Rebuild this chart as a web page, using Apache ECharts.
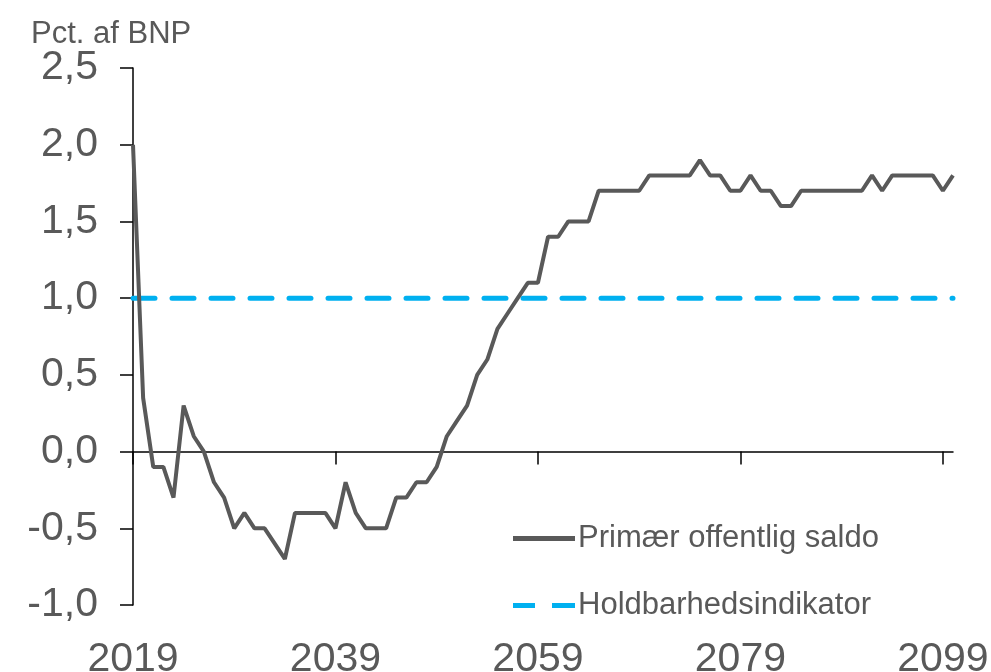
<!DOCTYPE html>
<html>
<head>
<meta charset="utf-8">
<script src="https://cdn.jsdelivr.net/npm/echarts@6/dist/echarts.min.js"></script>
<style>
  html, body { margin: 0; padding: 0; background: #fff; }
  #chart { width: 991px; height: 672px; }
</style>
</head>
<body>
<div id="chart"></div>
<script>
// år 2019-2100
var years = [];
for (var y = 2019; y <= 2100; y++) years.push(String(y));

// primær offentlig saldo, pct. af BNP
var saldo = [
  2.0, 0.35, -0.1, -0.1, -0.3, 0.3, 0.1, 0.0, -0.2, -0.3,     // 2019-2028
  -0.5, -0.4, -0.5, -0.5, -0.6, -0.7, -0.4, -0.4, -0.4, -0.4, // 2029-2038
  -0.5, -0.2, -0.4, -0.5, -0.5, -0.5, -0.3, -0.3, -0.2, -0.2, // 2039-2048
  -0.1, 0.1, 0.2, 0.3, 0.5, 0.6, 0.8, 0.9, 1.0, 1.1,          // 2049-2058
  1.1, 1.4, 1.4, 1.5, 1.5, 1.5, 1.7, 1.7, 1.7, 1.7,           // 2059-2068
  1.7, 1.8, 1.8, 1.8, 1.8, 1.8, 1.9, 1.8, 1.8, 1.7,           // 2069-2078
  1.7, 1.8, 1.7, 1.7, 1.6, 1.6, 1.7, 1.7, 1.7, 1.7,           // 2079-2088
  1.7, 1.7, 1.7, 1.8, 1.7, 1.8, 1.8, 1.8, 1.8, 1.8,           // 2089-2098
  1.7, 1.8                                                     // 2099-2100
];

// holdbarhedsindikator
var indikator = years.map(function () { return 1.0; });

var tickEvery20 = function (idx) { return idx % 20 === 0; };
var grey = '#595959';
var blue = '#00B0F0';

var myChart = echarts.init(document.getElementById('chart'));
var option = {
    animation: false,
    title: {
        text: 'Pct. af BNP',
        left: 26,
        top: 14,
        textStyle: { fontFamily: 'Liberation Sans', fontSize: 31, fontWeight: 'normal', color: grey }
    },
    grid: { left: 133, right: 38, top: 68, bottom: 67, outerBoundsMode: 'none' },
    legend: {
        orient: 'vertical',
        left: 508,
        top: 518,
        itemWidth: 62,
        itemHeight: 5,
        itemGap: 36,
        textStyle: { fontFamily: 'Liberation Sans', fontSize: 31, color: grey, padding: [0, 0, 0, -2] },
        data: [
            { name: 'Primær offentlig saldo', icon: 'rect', itemStyle: { color: grey } },
            { name: 'Holdbarhedsindikator', icon: 'path://M0,0h22v5h-22z M39,0h23v5h-23z', itemStyle: { color: blue } }
        ]
    },
    xAxis: [
        {
            type: 'category',
            data: years,
            boundaryGap: false,
            axisLine: { onZero: true, lineStyle: { color: '#000', width: 1.5 } },
            axisTick: { show: true, interval: tickEvery20, length: 13, lineStyle: { color: '#000', width: 1.5 } },
            axisLabel: { show: false },
            splitLine: { show: false }
        },
        {
            type: 'category',
            data: years,
            boundaryGap: false,
            position: 'bottom',
            axisLine: { show: false },
            axisTick: { show: false },
            axisLabel: {
                interval: tickEvery20,
                margin: 34,
                fontFamily: 'Liberation Sans',
                fontSize: 41,
                color: grey
            }
        }
    ],
    yAxis: {
        type: 'value',
        min: -1,
        max: 2.5,
        interval: 0.5,
        axisLine: { show: true, lineStyle: { color: '#000', width: 1.5 } },
        axisTick: { show: true, length: 13, lineStyle: { color: '#000', width: 1.5 } },
        splitLine: { show: false },
        axisLabel: {
            margin: 35,
            fontFamily: 'Liberation Sans',
            fontSize: 41,
            color: grey,
            formatter: function (v) { return v.toFixed(1).replace('.', ','); }
        }
    },
    series: [
        {
            name: 'Primær offentlig saldo',
            type: 'line',
            data: saldo,
            symbol: 'none',
            lineStyle: { color: grey, width: 4 },
            itemStyle: { color: grey },
            z: 3
        },
        {
            name: 'Holdbarhedsindikator',
            type: 'line',
            data: indikator,
            symbol: 'none',
            lineStyle: { color: blue, width: 5, type: [22, 17], cap: 'round' },
            itemStyle: { color: blue },
            z: 2
        }
    ]
};
myChart.setOption(option);
</script>
</body>
</html>
